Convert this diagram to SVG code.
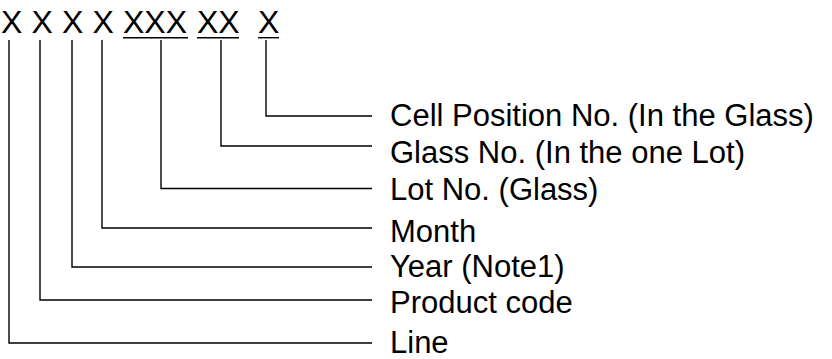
<svg xmlns="http://www.w3.org/2000/svg" width="832" height="359" viewBox="0 0 832 359">
<style>
.code{font-family:"Liberation Sans",Arial,sans-serif;font-size:32px;fill:#000}
.lbl{font-family:"Liberation Sans",Arial,sans-serif;font-size:31px;fill:#000}
.c{fill:none;stroke:#000;stroke-width:1.4}
</style>
<rect width="832" height="359" fill="#fff"/>
<g id="code">
<text class="code" x="1" y="33">X</text>
<text class="code" x="31.5" y="33">X</text>
<text class="code" x="62" y="33">X</text>
<text class="code" x="92.5" y="33">X</text>
<text class="code" x="123" y="33">XXX</text>
<text class="code" x="197" y="33">XX</text>
<text class="code" x="258" y="33">X</text>
<line class="c" x1="123" y1="37.7" x2="188" y2="37.7"/>
<line class="c" x1="197" y1="37.7" x2="239" y2="37.7"/>
<line class="c" x1="258" y1="37.7" x2="279" y2="37.7"/>
</g>
<g id="connectors">
<polyline class="c" points="266,40 266,116 372,116"/>
<polyline class="c" points="221,40 221,146 372,146"/>
<polyline class="c" points="161,40 161,188.5 372,188.5"/>
<polyline class="c" points="102,40 102,228 372,228"/>
<polyline class="c" points="72,40 72,267 372,267"/>
<polyline class="c" points="40,40 40,300 372,300"/>
<polyline class="c" points="9,40 9,343 372,343"/>
</g>
<g id="cell"><text class="lbl" x="390" y="126">Cell Position No. (In the Glass)</text></g>
<g id="glass"><text class="lbl" x="390" y="163">Glass No. (In the one Lot)</text></g>
<g id="lot"><text class="lbl" x="390" y="200">Lot No. (Glass)</text></g>
<g id="month"><text class="lbl" x="390" y="242">Month</text></g>
<g id="year"><text class="lbl" x="390" y="277">Year (Note1)</text></g>
<g id="product"><text class="lbl" x="390" y="313">Product code</text></g>
<g id="line"><text class="lbl" x="390" y="353">Line</text></g>
</svg>
